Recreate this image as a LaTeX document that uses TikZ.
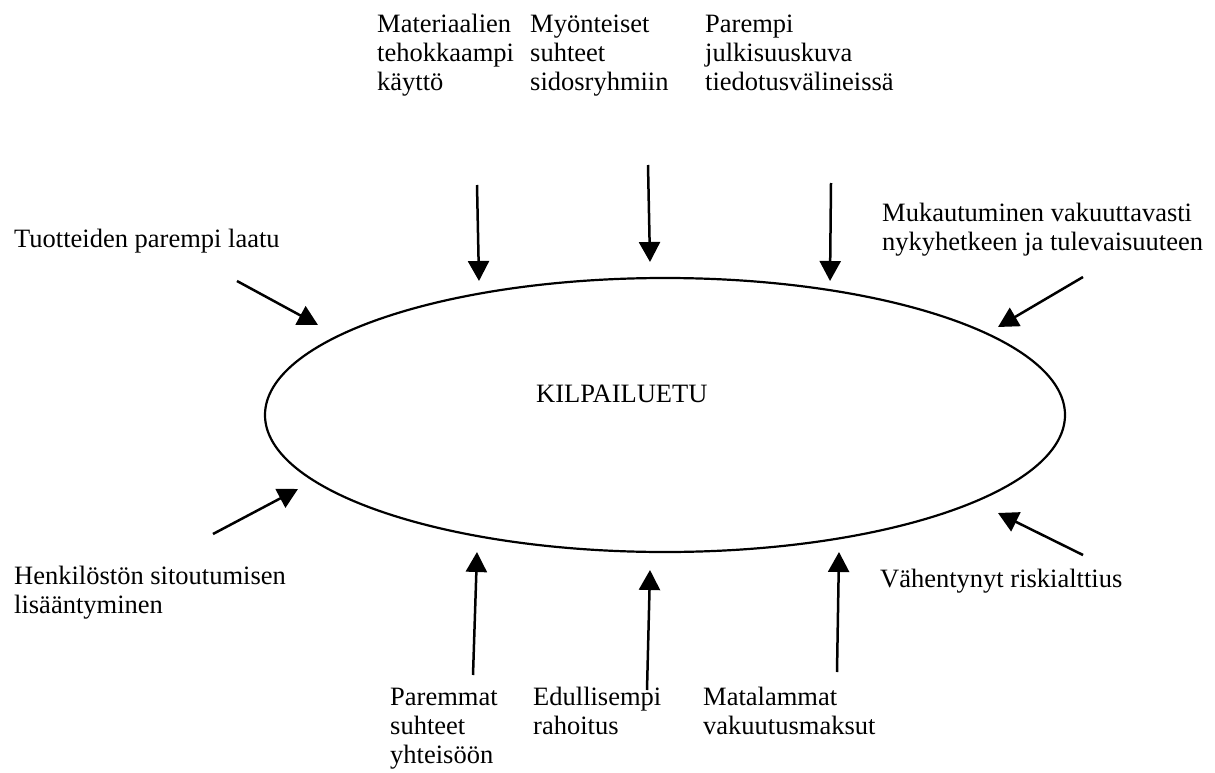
\documentclass[tikz,border=0pt]{standalone}
\usepackage{fontspec}
\setmainfont{Liberation Serif}
\usetikzlibrary{arrows.meta,shapes.geometric}
\begin{document}
\begin{tikzpicture}[x=1pt,y=-1pt,
  lbl/.style={anchor=base west,inner sep=0pt,align=left,font=\fontsize{26.5}{29}\selectfont},
  arr/.style={line width=2.5pt,-{Triangle[length=20pt,width=21pt]}},
  oval/.style={ellipse,draw,line width=2.2pt,minimum width=800pt,minimum height=274pt,inner sep=0pt}]
\useasboundingbox (0,0) rectangle (1215,773);
\node[oval] (e) at (665,415) {};
\node[lbl] (k) at (536,402) {KILPAILUETU};
% labels (anchor = baseline of last line)
\node[lbl] (t1) at (377,91) {Materiaalien\\tehokkaampi\\käyttö};
\node[lbl] (t2) at (530,91) {Myönteiset\\suhteet\\sidosryhmiin};
\node[lbl] (t3) at (705,91) {Parempi\\julkisuuskuva\\tiedotusvälineissä};
\node[lbl] (l1) at (14,247) {Tuotteiden parempi laatu};
\node[lbl] (r1) at (882,250) {Mukautuminen vakuuttavasti\\nykyhetkeen ja tulevaisuuteen};
\node[lbl] (l2) at (14,613) {Henkilöstön sitoutumisen\\lisääntyminen};
\node[lbl] (r2) at (880,587) {Vähentynyt riskialttius};
\node[lbl] (b1) at (390,763) {Paremmat\\suhteet\\yhteisöön};
\node[lbl] (b2) at (533,734) {Edullisempi\\rahoitus};
\node[lbl] (b3) at (703,734) {Matalammat\\vakuutusmaksut};
% arrow endpoints
\coordinate (s1) at (477,185); \coordinate (e1) at (479,281);
\coordinate (s2) at (648,165); \coordinate (e2) at (650,262);
\coordinate (s3) at (831,183); \coordinate (e3) at (830,281);
\coordinate (s4) at (237,281); \coordinate (e4) at (318,325);
\coordinate (s5) at (1083,277); \coordinate (e5) at (998,327);
\coordinate (s6) at (213,534); \coordinate (e6) at (298,489);
\coordinate (s7) at (1083,555); \coordinate (e7) at (998,513);
\coordinate (s8) at (473,675); \coordinate (e8) at (477,552);
\coordinate (s9) at (647,690); \coordinate (e9) at (650,570);
\coordinate (s10) at (837,672); \coordinate (e10) at (839,552);
\foreach \i in {1,...,10} {\draw[arr] (s\i) -- (e\i);}
\end{tikzpicture}
\end{document}
